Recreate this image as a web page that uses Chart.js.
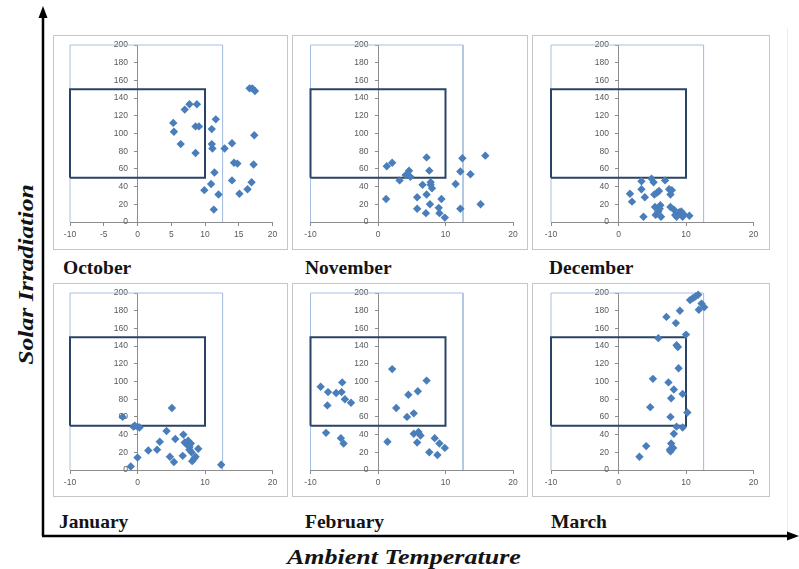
<!DOCTYPE html>
<html><head><meta charset="utf-8">
<script src="https://cdn.jsdelivr.net/npm/chart.js@4.4.1/dist/chart.umd.min.js"></script>
<style>
body{margin:0;width:799px;height:569px;background:#fff;position:relative;overflow:hidden;}
.frame{position:absolute;border:1px solid #c6c6c6;box-sizing:border-box;background:#fff;}
.frame canvas{position:absolute;left:-1px;top:-1px;}
.lbl{position:absolute;white-space:nowrap;line-height:1;color:#141414;}
.month{font:bold 19.5px "Liberation Serif";}
.axt{font:bold italic 20px "Liberation Serif";transform-origin:50% 50%;}
</style></head><body>
<svg width="799" height="569" style="position:absolute;left:0;top:0" id="arrows">
  <line x1="787.5" y1="28" x2="787.5" y2="534" stroke="#ececec" stroke-width="1"/>
  <line x1="43" y1="16" x2="43" y2="536" stroke="#000" stroke-width="2.5"/>
  <polygon points="43,6 38.5,18 47.5,18" fill="#000"/>
  <line x1="42" y1="536" x2="788" y2="536" stroke="#000" stroke-width="2.5"/>
  <polygon points="799,536 787,531.5 787,540.5" fill="#000"/>
</svg>
<div id="panels"></div>
<div class="lbl axt" id="xTitle">Ambient Temperature</div>
<div class="lbl axt" id="yTitle">Solar Irradiation</div>
<script>
// ---- data ----
const months = ["October","November","December","January","February","March"];
const octoberTemp = [5.3,5.4,6.4,7.0,7.7,8.8,8.6,8.6,9.1,9.9,10.9,11.0,11.0,11.1,11.6,11.4,11.3,12.0,12.9,14.0,14.0,14.3,14.8,15.1,16.3,16.9,16.6,17.0,17.4,17.3,17.2];
const octoberIrr  = [112,102,88,127,133,133,78,108,108,36,43,105,88,83,116,56,14,31,83,89,47,67,66,32,37,45,151,151,148,98,65];
const novemberTemp = [1.2,1.3,2.1,3.2,4.1,4.6,4.8,5.8,5.8,6.6,7.2,7.2,7.1,7.6,7.8,7.8,8.0,7.7,9.0,9.1,9.4,9.9,11.5,12.2,12.2,12.5,13.7,15.2,15.9];
const novemberIrr  = [26,63,67,47,53,58,51,28,15,42,73,31,10,58,42,45,38,20,16,10,26,5,43,57,15,72,54,20,75];
const decemberTemp = [1.7,2.0,3.4,3.4,3.7,3.9,4.9,5.2,5.3,5.4,5.5,5.7,6.0,6.1,5.9,6.2,6.3,6.9,7.5,7.9,7.7,7.7,8.2,8.4,8.6,9.0,9.3,9.5,9.6,10.5,8.8];
const decemberIrr  = [32,23,46,37,6,28,49,45,31,17,8,33,35,15,12,19,6,47,37,36,31,17,14,8,6,11,12,6,9,7,8];
const januaryTemp = [-1.0,-2.2,-0.6,0.0,0.3,-0.4,0.0,1.6,2.9,3.3,4.3,4.8,5.1,5.4,5.6,6.7,6.8,7.0,7.3,7.7,7.5,7.9,8.0,8.1,8.4,8.6,9.0,12.4,7.7];
const januaryIrr  = [4,60,49,49,48,50,14,22,23,32,44,15,70,9,35,16,40,31,29,26,33,30,20,10,13,15,24,6,23];
const februaryTemp = [-8.5,-7.4,-7.5,-7.7,-6.2,-5.3,-5.4,-4.9,-4.0,-5.5,-5.1,1.4,2.1,2.7,4.3,4.5,5.3,5.3,5.9,5.8,6.0,6.3,7.2,7.6,8.4,9.1,8.8,9.9];
const februaryIrr  = [94,88,73,42,87,99,88,80,76,36,30,32,114,70,60,85,64,41,89,31,43,39,101,20,36,30,17,25];
const marchTemp = [3.1,4.1,4.7,5.1,5.9,7.1,7.4,7.7,7.8,7.7,7.8,8.1,8.2,8.2,8.5,8.6,8.8,8.9,8.6,9.1,9.5,9.5,10.0,10.2,10.6,11.0,11.4,11.8,11.9,12.3,12.7,7.6];
const marchIrr  = [15,27,71,103,149,173,99,60,81,21,30,25,41,91,166,141,139,115,49,180,86,48,153,65,192,194,196,198,181,188,184,23];
const tempSeries = [octoberTemp,novemberTemp,decemberTemp,januaryTemp,februaryTemp,marchTemp];
const irrSeries  = [octoberIrr,novemberIrr,decemberIrr,januaryIrr,februaryIrr,marchIrr];
const xTickStep = [5,10,10,10,10,10];
const yTickStep = 20;
const xRange = [-10, 20];
const yRange = [0, 200];
const comfortBoxX = [-10,-10,10,10,-10];
const comfortBoxY = [50,150,150,50,50];
const plotBoxX = [-10,-10,12.6,12.6];
const plotBoxY = [0,200,200,0];

// ---- layout ----
const frameL = [53,292,532], frameR = [288,528,770];
const frameT = [35,283], frameB = [250,497];
const areaL = [70,310.5,551], areaW = 202.5;
const areaT = [45,293], areaH = 177;
const labelX = [63,305,549, 59,305,551];
const labelBase = [273,273,273, 527,527,527];

function pts(xs, ys){ return xs.map((x,i)=>({x:x, y:ys[i]})); }

const panels = document.getElementById('panels');
months.forEach((m, i) => {
  const c = i % 3, r = Math.floor(i / 3);
  const fw = frameR[c]-frameL[c], fh = frameB[r]-frameT[r];
  const fr = document.createElement('div');
  fr.className = 'frame';
  fr.style.left = frameL[c]+'px'; fr.style.top = frameT[r]+'px';
  fr.style.width = fw+'px'; fr.style.height = fh+'px';
  const cv = document.createElement('canvas');
  cv.width = fw; cv.height = fh;
  fr.appendChild(cv);
  panels.appendChild(fr);
  const pad = {
    left: areaL[c]-frameL[c],
    top: areaT[r]-frameT[r],
    right: frameR[c]-(areaL[c]+areaW),
    bottom: frameB[r]-(areaT[r]+areaH)
  };
  const tickFont = {family:'Liberation Sans', size:8.5};
  new Chart(cv, {
    type: 'scatter',
    data: { datasets: [
      { data: pts(tempSeries[i], irrSeries[i]), pointStyle:'rectRot', pointRadius:4.2,
        backgroundColor:'#4a7ebb', borderColor:'#4a7ebb', borderWidth:0, clip:false },
      { data: pts(comfortBoxX, comfortBoxY), showLine:true, pointRadius:0,
        borderColor:'#2b4466', borderWidth:2, fill:false, clip:false },
      { data: pts(plotBoxX, plotBoxY), showLine:true, pointRadius:0,
        borderColor:'#a9c1e0', borderWidth:1, fill:false, clip:false }
    ]},
    options: {
      responsive:false, animation:false, devicePixelRatio:1,
      layout:{padding:pad},
      plugins:{legend:{display:false}, tooltip:{enabled:false}},
      scales:{
        x:{type:'linear', min:xRange[0], max:xRange[1], position:{y:0},
           ticks:{stepSize:xTickStep[i], font:tickFont, color:'#595959', padding:5, maxRotation:0, autoSkip:false},
           grid:{drawOnChartArea:false, drawTicks:true, tickLength:3, color:'#8c8c8c'},
           border:{color:'#8c8c8c'}},
        y:{type:'linear', min:yRange[0], max:yRange[1], position:{x:0},
           ticks:{stepSize:yTickStep, font:tickFont, color:'#595959', autoSkip:false,
                  callback:(v)=> v + '\u2007\u2007'},
           grid:{drawOnChartArea:false, drawTicks:true, tickLength:3, color:'#8c8c8c'},
           border:{color:'#8c8c8c'}}
      }
    }
  });
  const lb = document.createElement('div');
  lb.className = 'lbl month';
  lb.textContent = m;
  lb.style.left = labelX[i]+'px';
  lb.style.top = (labelBase[i] - 0.8375*19.5)+'px';
  document.body.appendChild(lb);
});

function placeTitle(el, cx, cy, targetW, rot){
  const w = el.offsetWidth, h = el.offsetHeight;
  const s = targetW / w;
  el.style.left = (cx - w/2)+'px';
  el.style.top = (cy - h/2)+'px';
  el.style.transform = (rot ? 'rotate('+rot+'deg) ' : '') + 'scaleX('+s+')';
}
placeTitle(document.getElementById('xTitle'), 404, 564 - 0.3375*20, 234, 0);
placeTitle(document.getElementById('yTitle'), 33 - 0.3375*20, 274, 181, -90);
</script>
</body></html>
